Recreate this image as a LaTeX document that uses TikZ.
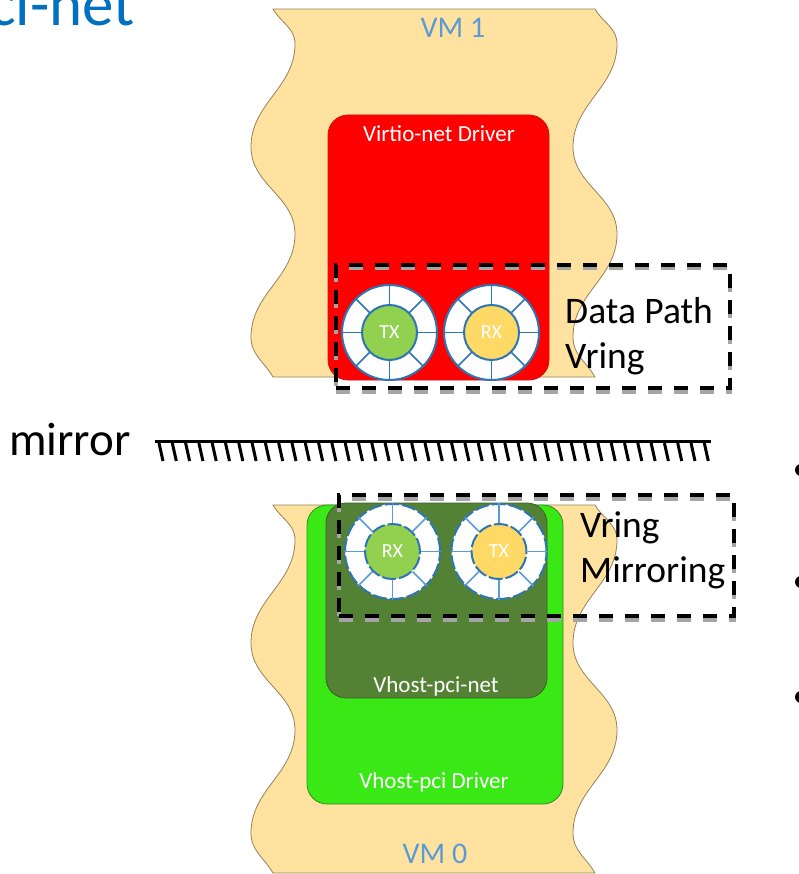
\documentclass[tikz,border=0pt]{standalone}
\usepackage{fontspec}
\setmainfont{Carlito}
\definecolor{vmfill}{RGB}{255,226,160}
\definecolor{vmedge}{RGB}{150,130,90}
\definecolor{vmtext}{RGB}{91,155,213}
\definecolor{titleblue}{RGB}{0,112,192}
\definecolor{drvred}{RGB}{255,0,0}
\definecolor{drvredline}{RGB}{200,20,20}
\definecolor{drvgreen}{RGB}{58,232,22}
\definecolor{drvgreenline}{RGB}{50,140,30}
\definecolor{netgreen}{RGB}{84,130,53}
\definecolor{netgreenline}{RGB}{60,95,40}
\definecolor{ringblue}{RGB}{46,117,182}
\definecolor{spokeblue}{RGB}{91,155,213}
\definecolor{txgreen}{RGB}{146,208,80}
\definecolor{rxyellow}{RGB}{255,217,102}
\definecolor{shadowgray}{RGB}{165,165,165}
\tikzset{
  vmshape/.style={fill=vmfill, draw=vmedge, line width=0.8},
  vmlabel/.style={text=vmtext, font=\fontsize{30}{36}\selectfont, inner sep=0, anchor=base},
  boxlabel/.style={text=white, font=\fontsize{23}{28}\selectfont, inner sep=0, anchor=base},
  drvbox/.style={rectangle, rounded corners=20pt, line width=0.8, inner sep=0},
  ringout/.style={circle, draw=ringblue, fill=white, line width=2, minimum size=95pt, inner sep=0},
  ringin/.style={circle, draw=ringblue, line width=2, minimum size=55pt, inner sep=0,
    text=white, font=\fontsize{20}{24}\selectfont},
  spoke/.style={draw=ringblue, line width=1.5},
  brokenring/.style={dash pattern=on 14pt off 3pt},
  mspoke/.style={draw=spokeblue, line width=1.5},
  dashbox/.style={rectangle, draw=black, line width=4, dash pattern=on 14pt off 12pt, inner sep=0},
  shadowbox/.style={dashbox, draw=shadowgray},
  sidetext/.style={font=\fontsize{37.5}{45}\selectfont, inner sep=0, anchor=base west},
  bulletdot/.style={circle, fill=black, minimum size=12pt, inner sep=0},
  hatch/.style={line width=3},
}
\begin{document}
\begin{tikzpicture}[x=1pt, y=-1pt]
\useasboundingbox (0,0) rectangle (799,874);
\clip (0,0) rectangle (799,874);
\fill[white] (0,0) rectangle (799,874);

% the two wavy VM regions (VM 0 is the same outline moved down)
\foreach \dy in {0,496} {
  \path[vmshape, shift={(0,\dy)}] (273,9) -- (595,9)
    to[out=-60,in=90] (617,44) to[out=-90,in=90] (573,147)
    to[out=-90,in=90] (617,234) to[out=-90,in=90] (573,337)
    to[out=-90,in=120] (595,377) -- (273,377)
    to[out=120,in=-90] (251,337) to[out=90,in=-90] (295,234)
    to[out=90,in=-90] (251,147) to[out=90,in=-90] (295,44)
    to[out=90,in=-60] (273,9) -- cycle;
}
\node[vmlabel] (vm1) at (453,38) {VM 1};
\node[vmlabel] (vm0) at (435,863) {VM 0};

% guest driver of VM 1
\node[drvbox, fill=drvred, draw=drvredline, minimum width=221pt, minimum height=265pt]
  (vnet) at (438.5,247.5) {};
\node[boxlabel] (vnetlbl) at (439,142) {Virtio-net Driver};

% host-side drivers of VM 0
\node[drvbox, fill=drvgreen, draw=drvgreenline, minimum width=256pt, minimum height=299pt]
  (vpci) at (435,654.5) {};
\node[drvbox, fill=netgreen, draw=netgreenline, minimum width=221pt, minimum height=195pt]
  (vpcinet) at (436.5,600.5) {};
\node[boxlabel] (vpcinetlbl) at (436,692) {Vhost-pci-net};
\node[boxlabel] (vpcilbl) at (434,788) {Vhost-pci Driver};

% vrings of the virtio-net driver
\foreach \n/\x/\y/\c/\t in {txa/389.5/332.5/txgreen/TX, rxa/491.5/332.5/rxyellow/RX} {
  \node[ringout] (\n) at (\x,\y) {};
  \node[ringin, fill=\c] (\n-in) at (\n) {\t};
  \foreach \a in {0,45,...,315} \draw[spoke] (\n-in.\a) -- (\n.\a);
}

% mirrored vrings of vhost-pci-net
\foreach \n/\x/\y/\c/\t in {rxb/392.5/551.5/txgreen/RX, txb/499/551.5/rxyellow/TX} {
  \node[ringout, brokenring] (\n) at (\x,\y) {};
  \node[ringin, brokenring, fill=\c] (\n-in) at (\n) {\t};
  \foreach \a in {0,45,...,315} \draw[mspoke] (\n-in.\a) -- (\n.\a);
}

% dashed frames with their grey shadows
\node[shadowbox, minimum width=394pt, minimum height=123pt] (dpshadow) at (533,330) {};
\node[dashbox, minimum width=394pt, minimum height=123pt] (dp) at (533,326.5) {};
\node[shadowbox, minimum width=395pt, minimum height=121pt] (vmshadow) at (536.5,559) {};
\node[dashbox, minimum width=395pt, minimum height=121pt] (vmr) at (536.5,555.5) {};

\node[sidetext] (dptext1) at (565,323) {Data Path};
\node[sidetext] (dptext2) at (565,368) {Vring};
\node[sidetext] (vmtext1) at (580,537) {Vring};
\node[sidetext] (vmtext2) at (580,582) {Mirroring};

% mirror plane
\node[font=\fontsize{47}{54}\selectfont, inner sep=0, anchor=base west] (mirrorlbl) at (9,455) {mirror};
\coordinate (ma) at (155,441);
\coordinate (mb) at (711,441);
\draw[line width=3] (ma) -- (mb);
\foreach \i in {0,...,41} {
  \pgfmathsetmacro{\hx}{159+\i*13.3}
  \draw[hatch] (\hx,443) -- ++(4,18);
}

% slide title and list bullets
\node[anchor=base east, text=titleblue, font=\fontsize{63}{70}\selectfont, inner sep=0]
  (title) at (135,26) {ci-net};
\node[bulletdot] (b1) at (801,470) {};
\node[bulletdot] (b2) at (801,582) {};
\node[bulletdot] (b3) at (801,697) {};
\end{tikzpicture}
\end{document}
